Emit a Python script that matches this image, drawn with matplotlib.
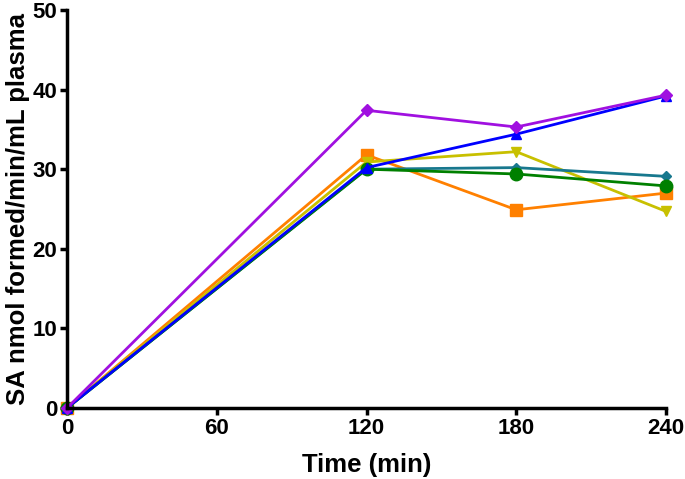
import matplotlib.pyplot as plt

plt.rcParams['font.family'] = ['Liberation Sans', 'DejaVu Sans']
plt.rcParams['font.weight'] = 'bold'

time_min = [0, 120, 180, 240]
series_colors = ['#FF8000', '#C8C000', '#18788E', '#008000', '#0000FF', '#A010E0']
series_markers = ['s', 'v', 'D', 'o', '^', 'D']
series_sizes = [9, 7, 5, 9, 7, 6]
orange_vals = [0, 31.8, 24.9, 27.0]
yellow_vals = [0, 30.9, 32.2, 24.7]
teal_vals = [0, 30.0, 30.2, 29.1]
green_vals = [0, 30.0, 29.4, 27.9]
blue_vals = [0, 30.2, 34.4, 39.2]
purple_vals = [0, 37.4, 35.3, 39.3]
all_vals = [orange_vals, yellow_vals, teal_vals, green_vals, blue_vals, purple_vals]

fig = plt.figure(figsize=(6.85, 4.79), dpi=100)
ax = fig.add_axes([67/685, 1 - 408/479, (666-67)/685, (408-10)/479])

for vals, c, m, s in zip(all_vals, series_colors, series_markers, series_sizes):
    ax.plot(time_min, vals, color=c, marker=m, markersize=s, linewidth=2,
            clip_on=False)

ax.set_xlim(0, 240)
ax.set_ylim(0, 50)
ax.set_xticks([0, 60, 120, 180, 240])
ax.set_yticks([0, 10, 20, 30, 40, 50])
for side in ['top', 'right']:
    ax.spines[side].set_visible(False)
for side in ['left', 'bottom']:
    ax.spines[side].set_linewidth(2.5)
ax.tick_params(width=2.5, length=5, labelsize=16, direction='out', pad=2)
for lab in ax.get_xticklabels() + ax.get_yticklabels():
    lab.set_fontweight('bold')
ax.set_xlabel('Time (min)', fontsize=18.5, fontweight='bold', labelpad=10)
ax.set_ylabel('SA nmol formed/min/mL plasma', fontsize=18.5, fontweight='bold', labelpad=2)

fig.savefig('out.png', dpi=100)
